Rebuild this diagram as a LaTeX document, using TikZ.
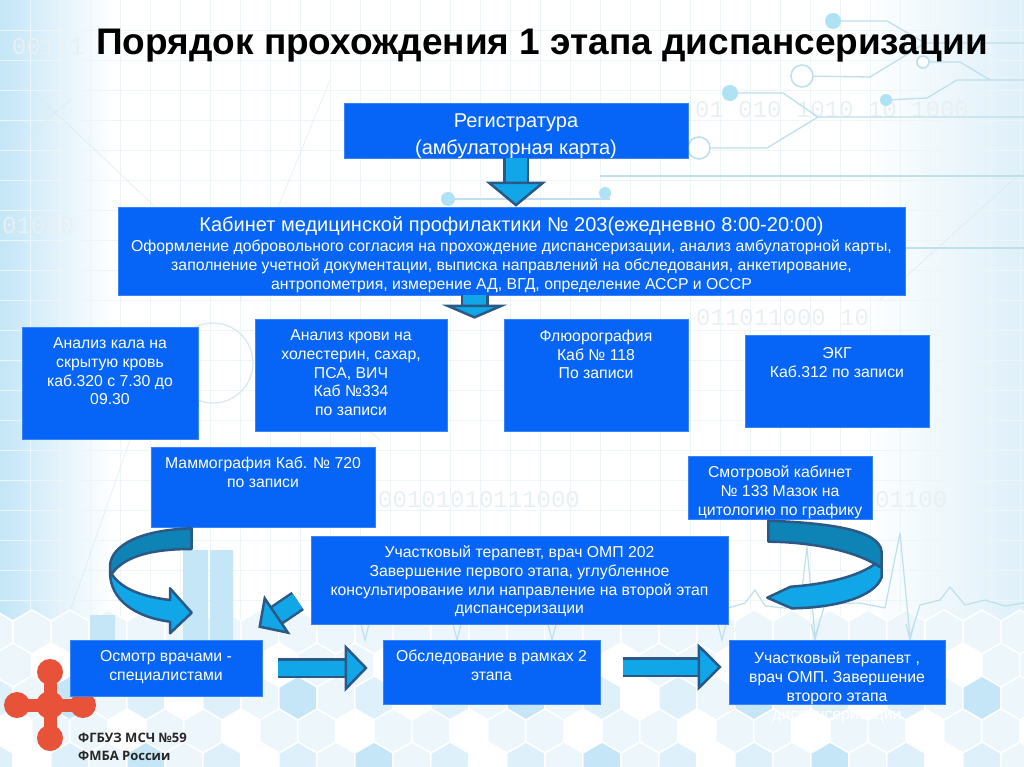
\documentclass[tikz,border=0pt]{standalone}
\usepackage{fontspec}
\setmainfont{Liberation Sans}
\newfontfamily\logofont{Open Sans}
\newfontfamily\digitfont{Liberation Mono}
\usepackage{tikz}
\usetikzlibrary{positioning,calc,arrows.meta}
\definecolor{boxBlue}{RGB}{6,101,246}
\definecolor{arrowFill}{RGB}{16,166,232}
\definecolor{arrowBack}{RGB}{14,132,182}
\definecolor{arrowEdge}{RGB}{44,88,134}
\definecolor{traceBlue}{RGB}{190,224,236}
\definecolor{dotBlue}{RGB}{176,226,246}
\definecolor{gridPale}{RGB}{238,245,248}
\definecolor{digitPale}{RGB}{232,240,244}
\definecolor{linePale}{RGB}{214,232,238}
\definecolor{barBlue}{RGB}{196,230,247}
\definecolor{hexDeep}{RGB}{196,230,246}
\definecolor{hexMid}{RGB}{222,240,249}
\definecolor{hexPale}{RGB}{236,246,251}
\definecolor{logoRed}{RGB}{232,82,56}
\tikzset{
    bluebox/.style={fill=boxBlue,draw=boxBlue!80!white,line width=0.6pt,inner sep=0pt},
    boxtext/.style={text=white,align=center,inner sep=0pt,font=\fontsize{15.8}{18.7}\selectfont},
    bigtext/.style={text=white,align=center,inner sep=0pt,font=\fontsize{20}{27}\selectfont},
    fatarrow/.style n args={3}{arrowEdge,line width=2.5pt,double=arrowFill,double distance=#1,
        -{Triangle[width=#2,length=#3,fill=arrowFill,line width=2.5pt]}},
    curvefront/.style={fill=arrowFill,draw=arrowEdge,line width=2.5pt,line join=round},
    curveback/.style={fill=arrowBack,draw=arrowEdge,line width=2.5pt,line join=round},
    trace/.style={draw=traceBlue,line width=1.3pt},
    ring/.style={draw=traceBlue,line width=1.6pt,fill=white},
    dot/.style={fill=dotBlue},
    hexcell/.style={draw=white,line width=1.5pt},
    digits/.style={text=digitPale,inner sep=0pt,font=\digitfont\fontsize{24}{24}\selectfont}
}
\begin{document}
\begin{tikzpicture}[x=1pt,y=-1pt]
    \useasboundingbox (0,0) rectangle (1024,767);
    % background
    \fill[white] (0,0) rectangle (1024,767);
    \shade[left color=barBlue,right color=white] (0,0) rectangle (115,767);
    \shade[left color=white,right color=hexMid] (860,0) rectangle (1024,767);
    \foreach \gx in {30,60,...,1020}
        \draw[gridPale] (\gx,0) -- (\gx,640);
    \foreach \gy in {30,60,...,630}
        \draw[gridPale] (0,\gy) -- (1024,\gy);
    \draw[linePale] (0,60) -- (190,240) (0,160) -- (70,100) (60,640) -- (130,440)
        (330,80) -- (240,300) (880,300) -- (1024,170) (380,440) -- (250,330);
    \draw[linePale,line width=1.2pt] (213,363) circle (40);
    % binary rows
    \node[digits,anchor=west] (bitsa) at (12,47) {001 1};
    \node[digits,anchor=west] (bitsb) at (2,226) {01010};
    \node[digits,anchor=west] (bitsc) at (695,110) {01 010 1010 10 1000};
    \node[digits,anchor=west] (bitsd) at (696,318) {011011000 10};
    \node[digits,anchor=west] (bitse) at (378,500) {00101010111000};
    \node[digits,anchor=west] (bitsf) at (875,500) {01100};
    % circuit traces
    \draw[trace] (833,21) -- (887,21) -- (925,43) -- (1024,43);
    \draw[trace] (802,76) -- (870,77) -- (903,57) -- (925,43);
    \draw[trace] (923,62) -- (960,62) -- (990,80);
    \draw[trace] (886,100) -- (927,98) -- (957,80) -- (1024,80);
    \draw[trace] (730,93) -- (783,93) -- (818,117) -- (1024,117);
    \draw[trace] (699,148) -- (767,148) -- (818,117);
    \draw[trace] (600,176) -- (1024,176);
    \draw[trace] (905,248) -- (1024,248);
    \draw[trace] (448,199) -- (610,199);
    \fill[dot] (833,21) circle (8) (730,93) circle (8) (886,100) circle (6) (448,199) circle (7) (605,193) circle (6);
    \draw[ring] (802,76) circle (11);
    \draw[ring] (699,148) circle (11);
    \draw[ring] (923,62) circle (6);
    % hexagons
    \foreach \r in {0,...,4}
        \foreach \c in {0,...,27} {
            \pgfmathsetmacro{\hx}{\c*38-6+mod(\r,2)*19}
            \pgfmathsetmacro{\hy}{632+\r*33}
            \pgfmathtruncatemacro{\hv}{mod(\c*7+\r*11+\c*\r*3,6)}
            \edef\hcol{\ifcase\hv hexDeep\or hexPale\or hexMid\or white\or hexMid\else hexPale\fi}
            \ifnum\r=0 \edef\hcol{hexPale}\fi
            \path[hexcell,fill=\hcol] (\hx,\hy) +(30:22) -- +(90:22) -- +(150:22) -- +(210:22) -- +(270:22) -- +(330:22) -- cycle;
        }
    % bars and ecg
    \fill[barBlue] (183,550) rectangle (208,640) (210,550) rectangle (233,640) (90,615) rectangle (115,640);
    \draw[traceBlue,line width=1.2pt,line join=round] (728,608) -- (745,603) -- (755,590) -- (765,606) -- (785,608) -- (800,606)
        -- (807,547) -- (815,637) -- (825,604) -- (860,603) -- (885,608) -- (900,533) -- (910,637) -- (920,605) -- (940,600)
        -- (950,587) -- (965,605) -- (985,600) -- (1005,606) -- (1024,603);
    \foreach \sx in {365,457,552,722,815,910}
        \draw[traceBlue,line width=1.2pt] (\sx-4,624) -- (\sx,640) -- (\sx+4,624);
    % logo
    \draw[logoRed,line width=13pt] (50,672) -- (50,738) (17,705) -- (83,705);
    \fill[logoRed] (50,705) circle (14) (50,672) circle (13) (50,738) circle (13) (17,705) circle (13) (83,705) circle (13);
    \node[anchor=west,inner sep=0pt,align=left,font=\logofont\bfseries\fontsize{13}{18}\selectfont,text=black!85] (clinic) at (78,747) {ФГБУЗ МСЧ №59\\ФМБА России};
    % title
    \node[inner sep=0pt,font=\bfseries\fontsize{37}{40}\selectfont] (title) at (542,46) {Порядок прохождения 1 этапа диспансеризации};
    % boxes
    \node[bluebox,minimum width=344pt,minimum height=55pt] (reg) at (516,130.5) {};
    \node[bluebox,minimum width=787pt,minimum height=88pt] (cab) at (511.5,251) {};
    \node[bluebox,minimum width=176pt,minimum height=112pt] (kal) at (110,383) {};
    \node[bluebox,minimum width=192pt,minimum height=112pt] (krov) at (351,375) {};
    \node[bluebox,minimum width=184pt,minimum height=112pt] (flu) at (596,375) {};
    \node[bluebox,minimum width=184pt,minimum height=92pt] (ekg) at (837,381) {};
    \node[bluebox,minimum width=224pt,minimum height=80pt] (mam) at (263,487) {};
    \node[bluebox,minimum width=184pt,minimum height=63pt] (smotr) at (780,487.5) {};
    \node[bluebox,minimum width=417pt,minimum height=88pt] (uch) at (519.5,580) {};
    \node[bluebox,minimum width=192pt,minimum height=56pt] (osm) at (166,668) {};
    \node[bluebox,minimum width=217pt,minimum height=64pt] (obs) at (491.5,672) {};
    \node[bluebox,minimum width=216pt,minimum height=64pt] (ter) at (837,672) {};
    % box texts
    \node[bigtext,below=11pt of reg.north] (regtext) {Регистратура\\(амбулаторная карта)};
    \node[bigtext,below=10pt of cab.north] (cabhead) {Кабинет медицинской профилактики № 203(ежедневно 8:00-20:00)};
    \node[boxtext,below=33pt of cab.north] (cabtext) {Оформление добровольного согласия на прохождение диспансеризации, анализ амбулаторной карты,\\заполнение учетной документации, выписка направлений на обследования, анкетирование,\\антропометрия, измерение АД, ВГД, определение АССР и ОССР};
    \node[boxtext,below=11pt of kal.north] (kaltext) {Анализ кала на\\скрытую кровь\\каб.320 с 7.30 до\\09.30};
    \node[boxtext,below=11pt of krov.north] (krovtext) {Анализ крови на\\холестерин, сахар,\\ПСА, ВИЧ\\Каб №334\\по записи};
    \node[boxtext,below=11pt of flu.north] (flutext) {Флюорография\\Каб № 118\\По записи};
    \node[boxtext,below=13pt of ekg.north] (ekgtext) {ЭКГ\\Каб.312 по записи};
    \node[boxtext,below=10pt of mam.north] (mamtext) {Маммография Каб. № 720\\по записи};
    \node[boxtext,below=10pt of smotr.north] (smotrtext) {Смотровой кабинет\\№ 133 Мазок на\\цитологию по графику};
    \node[boxtext,below=10pt of uch.north] (uchtext) {Участковый терапевт, врач ОМП 202\\Завершение первого этапа, углубленное\\консультирование или направление на второй этап\\диспансеризации};
    \node[boxtext,below=11pt of osm.north] (osmtext) {Осмотр врачами -\\специалистами};
    \node[boxtext,below=10pt of obs.north] (obstext) {Обследование в рамках 2\\этапа};
    \node[boxtext,below=12pt of ter.north] (tertext) {Участковый терапевт ,\\врач ОМП. Завершение\\второго этапа\\диспансеризации};
    % arrows
    \coordinate (cabout) at ([xshift=-37pt]cab.south);
    \coordinate (diagfrom) at ([shift={(-13pt,-21pt)}]uch.west);
    \coordinate (diagto) at ([shift={(-4pt,12pt)}]osm.north east);
    \draw[fatarrow={21pt}{60pt}{25pt}] (reg.south) -- (reg.south |- cab.north);
    \draw[fatarrow={23pt}{65pt}{14pt}] (cabout) -- (cabout |- flu.north);
    \draw[fatarrow={17pt}{47pt}{23pt}] (diagfrom) -- (diagto);
    \draw[fatarrow={15pt}{47pt}{23pt},shorten <=16pt,shorten >=15pt] (osm.east) -- (osm.east -| obs.west);
    \draw[fatarrow={15pt}{47pt}{24pt},shorten <=23pt,shorten >=7pt] ([yshift=5pt]obs.east) -- ([yshift=5pt]ter.west);
    % curved arrows
    \draw[curveback] (191.7,528.3) .. controls (140,530) and (112,545) .. (110,565) -- (110,572) -- (111.7,574) .. controls (125,555) and (155,549) .. (191.7,549) -- cycle;
    \draw[curvefront] (111.7,574) .. controls (122,590) and (145,597) .. (170,600) -- (170,588.3) -- (191.7,612.7) -- (170,633.3) -- (170,621.7) .. controls (135,617) and (110,600) .. (110,572) -- cycle;
    \draw[curveback] (768.3,520.7) .. controls (830,523) and (880,530) .. (881.7,552) -- (881.7,568) -- (875,564) .. controls (855,552) and (815,542) .. (768.3,541.7) -- cycle;
    \draw[curvefront] (875,564) -- (881.7,568) -- (881.7,577) .. controls (875,597) and (835,608) .. (791.7,608.3) -- (767.3,597.7) -- (790.7,586.7) .. controls (830,584) and (860,575) .. (875,564) -- cycle;
\end{tikzpicture}
\end{document}
